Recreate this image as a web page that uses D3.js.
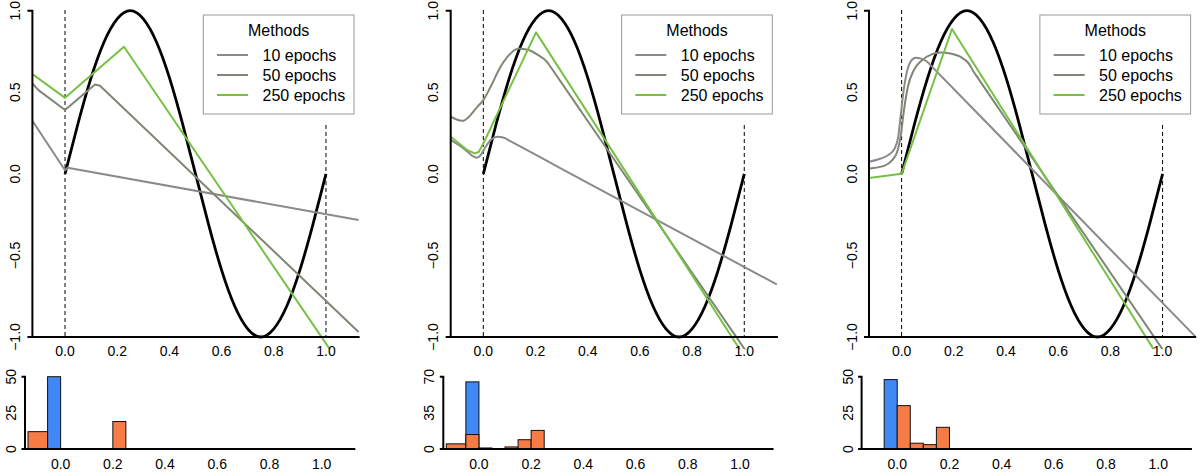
<!DOCTYPE html>
<html><head><meta charset="utf-8">
<script src="https://cdn.jsdelivr.net/npm/d3@7"></script>
<style>body{margin:0;background:#fff}svg{display:block}text{font-family:"Liberation Sans",Arial,Helvetica,sans-serif}</style>
</head><body><svg id="c" width="1202" height="472"></svg>
<script>
// ---- data ----
const xTicks = [0, 0.2, 0.4, 0.6, 0.8, 1.0];
const yTicks = [-1, -0.5, 0, 0.5, 1];
const methods = ["10 epochs", "50 epochs", "250 epochs"];
const methodColors = ["#8a8a8a", "#7e8776", "#77c043"];
const legendTitle = "Methods";

// target function, values
const targetX = [0,0.05,0.1,0.15,0.2,0.25,0.3,0.35,0.4,0.45,0.5,0.55,0.6,0.65,0.7,0.75,0.8,0.85,0.9,0.95,1.0];
const targetY = [0,0.31,0.59,0.81,0.95,1.0,0.95,0.81,0.59,0.31,0,-0.31,-0.59,-0.81,-0.95,-1.0,-0.95,-0.81,-0.59,-0.31,0];

// panel 1 fits
const p1_e10 = [[-0.125,0.325],[0,0.022],[0.01,0.037],[1.125,-0.283]];
const p1_e50 = [[-0.125,0.554],[-0.102,0.513],[0,0.391],[0.115,0.548],[0.134,0.54],[1.125,-0.969]];
const p1_e250 = [[-0.125,0.611],[0,0.466],[0.226,0.779],[1.125,-1.334]];
// panel 2 fits
const p2_e10 = [[-0.125,0.207],[-0.099,0.182],[-0.067,0.145],[-0.042,0.11],[-0.025,0.098],[-0.01,0.115],[0.009,0.166],[0.028,0.207],[0.053,0.227],[0.079,0.221],[0.1,0.203],[0.3,0.031],[1.125,-0.678]];
const p2_e50 = [[-0.125,0.35],[-0.105,0.335],[-0.08,0.325],[-0.055,0.35],[-0.023,0.411],[0,0.452],[0.028,0.534],[0.066,0.656],[0.098,0.728],[0.136,0.769],[0.174,0.759],[0.206,0.732],[0.244,0.687],[0.26,0.65],[0.4,0.324],[1.125,-1.362]];
const p2_e250 = [[-0.125,0.227],[-0.093,0.186],[-0.061,0.145],[-0.033,0.125],[-0.017,0.135],[0,0.186],[0.202,0.867],[1.125,-1.43]];
// panel 3 fits
const p3_e10 = [[-0.125,0.074],[-0.08,0.094],[-0.048,0.119],[-0.027,0.155],[-0.013,0.227],[-0.004,0.35],[0.006,0.491],[0.019,0.616],[0.034,0.687],[0.053,0.712],[0.075,0.706],[0.098,0.687],[0.12,0.651],[0.3,0.356],[1.125,-0.996]];
const p3_e50 = [[-0.125,0.033],[-0.067,0.049],[-0.036,0.084],[-0.017,0.135],[-0.004,0.227],[0.009,0.391],[0.024,0.534],[0.047,0.636],[0.079,0.697],[0.117,0.734],[0.149,0.744],[0.187,0.738],[0.225,0.718],[0.257,0.677],[0.276,0.626],[0.29,0.593],[0.4,0.335],[1.125,-1.37]];
const p3_e250 = [[-0.125,-0.025],[0,0],[0.193,0.888],[1.125,-1.48]];

// histograms: [binStart, binEnd, count]
const h1Blue = [[-0.05,0,50]];
const h1Orange = [[-0.125,-0.05,12],[0.2,0.25,19]];
const h2Blue = [[-0.05,0,65]];
const h2Orange = [[-0.125,-0.05,5],[-0.05,0,14],[0,0.05,1],[0.1,0.15,2],[0.15,0.2,9],[0.2,0.25,18]];
const h3Blue = [[-0.05,0,48]];
const h3Orange = [[0,0.05,30],[0.05,0.1,4],[0.1,0.15,3],[0.15,0.2,15]];
const h1Ticks = [0,25,50], h2Ticks = [0,35,70], h3Ticks = [0,25,50];

const panels = [
  {fits:[p1_e10,p1_e50,p1_e250], smooth:[false,false,false], blue:h1Blue, orange:h1Orange, hTicks:h1Ticks},
  {fits:[p2_e10,p2_e50,p2_e250], smooth:[true,true,false], blue:h2Blue, orange:h2Orange, hTicks:h2Ticks},
  {fits:[p3_e10,p3_e50,p3_e250], smooth:[true,true,false], blue:h3Blue, orange:h3Orange, hTicks:h3Ticks}
];

// ---- drawing ----
const svg = d3.select("#c");
const fmt = d => d3.format(".1f")(d);
const PW = 418.3;

panels.forEach((p, i) => {
  const off = i * PW;
  const g = svg.append("g");
  const x = d3.scaleLinear([-0.125, 1.125], [32.4 + off, 358.6 + off]);
  const y = d3.scaleLinear([-1, 1], [337, 10.7]);

  const clipId = "clip" + i;
  svg.append("clipPath").attr("id", clipId).append("rect")
    .attr("x", x(-0.125)).attr("y", y(1.08)).attr("width", x(1.125) - x(-0.125) + 2).attr("height", y(-1.075) - y(1.08));

  // dashed boundaries
  g.append("line").attr("x1", x(0)).attr("x2", x(0)).attr("y1", 10).attr("y2", y(-1))
    .attr("stroke", "#000").attr("stroke-width", 1).attr("stroke-dasharray", "4,3");
  g.append("line").attr("x1", x(1)).attr("x2", x(1)).attr("y1", 125).attr("y2", y(-1))
    .attr("stroke", "#000").attr("stroke-width", 1).attr("stroke-dasharray", "4,3");

  // target
  const tl = d3.line().x(d => x(d[0])).y(d => y(d[1])).curve(d3.curveNatural);
  g.append("path").datum(targetX.map((v, k) => [v, targetY[k]])).attr("d", tl)
    .attr("fill", "none").attr("stroke", "#000").attr("stroke-width", 2.8);

  // fits
  const fg = g.append("g").attr("clip-path", `url(#${clipId})`);
  p.fits.forEach((f, k) => {
    const ln = d3.line().x(d => x(d[0])).y(d => y(d[1]))
      .curve(p.smooth[k] ? d3.curveMonotoneX : d3.curveLinear);
    fg.append("path").datum(f).attr("d", ln).attr("fill", "none")
      .attr("stroke", methodColors[k]).attr("stroke-width", 2).attr("stroke-linejoin", "round");
  });

  // axes
  const ax = g.append("g");
  ax.append("path").attr("d", `M${x(-0.125)-5},${y(1)}H${x(-0.125)}V${y(-1)}`).attr("fill", "none").attr("stroke", "#000").attr("stroke-width", 2);
  ax.append("line").attr("x1", x(-0.125) - 5).attr("x2", x(1.125) + 1).attr("y1", y(-1)).attr("y2", y(-1)).attr("stroke", "#000").attr("stroke-width", 2);
  xTicks.forEach(t => ax.append("text").attr("x", x(t)).attr("y", 355.5).attr("text-anchor", "middle")
    .attr("font-size", 14).text(fmt(t)));
  yTicks.forEach(t => ax.append("text").attr("transform", `translate(${x(-0.125) - 12.5},${y(t)}) rotate(-90)`)
    .attr("text-anchor", "middle").attr("font-size", 14).text(fmt(t)));

  // legend
  const lg = g.append("g");
  lg.append("rect").attr("x", 203.3 + off).attr("y", 15).attr("width", 150.7).attr("height", 99)
    .attr("fill", "#fff").attr("stroke", "#999").attr("stroke-width", 1);
  lg.append("text").attr("x", 278.7 + off).attr("y", 35.5).attr("text-anchor", "middle").attr("font-size", 16).text(legendTitle);
  methods.forEach((m, k) => {
    const yy = 55 + k * 20;
    lg.append("line").attr("x1", 217 + off).attr("x2", 248 + off).attr("y1", yy).attr("y2", yy)
      .attr("stroke", methodColors[k]).attr("stroke-width", 2);
    lg.append("text").attr("x", 262.5 + off).attr("y", yy + 5.7).attr("font-size", 16).text(m);
  });

  // histogram
  const hx = d3.scaleLinear([-0.125, 1.125], [28 + off, 354.3 + off]);
  const hmax = p.hTicks[p.hTicks.length - 1];
  const hy = d3.scaleLinear([0, hmax], [449, 376.7]);
  const hg = svg.append("g");
  const drawBars = (arr, col) => hg.selectAll(null).data(arr).enter().append("rect")
    .attr("x", d => hx(d[0])).attr("width", d => hx(d[1]) - hx(d[0]))
    .attr("y", d => hy(d[2])).attr("height", d => hy(0) - hy(d[2]))
    .attr("fill", col).attr("stroke", "#111").attr("stroke-width", 1);
  drawBars(p.blue, "#3f88f6");
  drawBars(p.orange, "#f77b45");
  const yAx = hx(-0.125) - 3;
  hg.append("path").attr("d", `M${yAx-3.5},${hy(hmax)}H${yAx}V${hy(0)}`).attr("fill", "none").attr("stroke", "#000").attr("stroke-width", 2);
  hg.append("line").attr("x1", yAx - 3.5).attr("x2", hx(1.125) + 1).attr("y1", hy(0)).attr("y2", hy(0)).attr("stroke", "#000").attr("stroke-width", 2);
  xTicks.forEach(t => hg.append("text").attr("x", hx(t)).attr("y", 469).attr("text-anchor", "middle")
    .attr("font-size", 14).text(fmt(t)));
  p.hTicks.forEach(t => hg.append("text").attr("transform", `translate(${yAx - 9},${hy(t)}) rotate(-90)`)
    .attr("text-anchor", "middle").attr("font-size", 14).text(t));
});
</script></body></html>
